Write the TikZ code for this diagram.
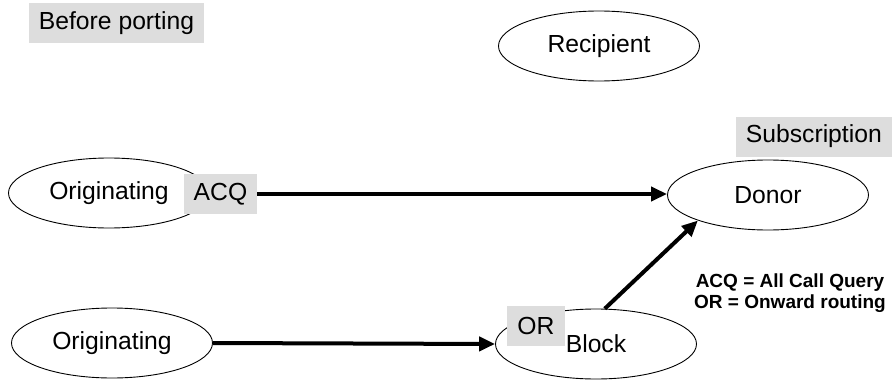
\documentclass[tikz,border=0pt]{standalone}
\usepackage{fontspec}
\setmainfont{Liberation Sans}
\usetikzlibrary{arrows.meta,shapes.geometric}

\begin{document}
\begin{tikzpicture}[x=1pt,y=-1pt,>={Triangle[length=16pt,width=14pt]}]

% colors
\definecolor{cLabel}{RGB}{221,221,221}

% styles
\tikzset{
  netnode/.style={ellipse,draw,line width=0.9pt,inner sep=0pt,
    minimum width=201pt,minimum height=70pt,
    font=\fontsize{24.7}{29}\selectfont},
  tagbox/.style={fill=cLabel,inner xsep=10pt,inner ysep=0pt,
    minimum height=40pt,font=\fontsize{24.7}{29}\selectfont},
  callflow/.style={->,line width=4pt}
}

% frame
\useasboundingbox (0,0) rectangle (892,380);

% title
\node[tagbox] (title) at (116.5,23) {Before porting};

% networks
\node[netnode] (recip) at (599,46) {Recipient};
\node[netnode] (orig1) at (109,193) {Originating};
\node[netnode] (donor) at (768,195) {Donor};
\node[netnode] (orig2) at (112,343) {Originating};
\node[netnode] (block) at (596,344) {\raisebox{-5pt}{Block}};

% labels on networks
\node[tagbox] (acq) at (220.5,194) {ACQ};
\node[tagbox] (or) at (536,325.5) {OR};
\node[tagbox,anchor=east] (subs) at (892,136.5) {Subscription};

% legend
\node[font=\bfseries\fontsize{19}{21}\selectfont,align=center] (legend) at (790,293.5)
  {ACQ = All Call Query\\OR = Onward routing};

% calls
\draw[callflow] (acq.east) -- (acq.east -| donor.west);
\draw[callflow] (orig2.east) -- (block.west);
\draw[callflow] (block.76) -- (donor.200);

\end{tikzpicture}
\end{document}
